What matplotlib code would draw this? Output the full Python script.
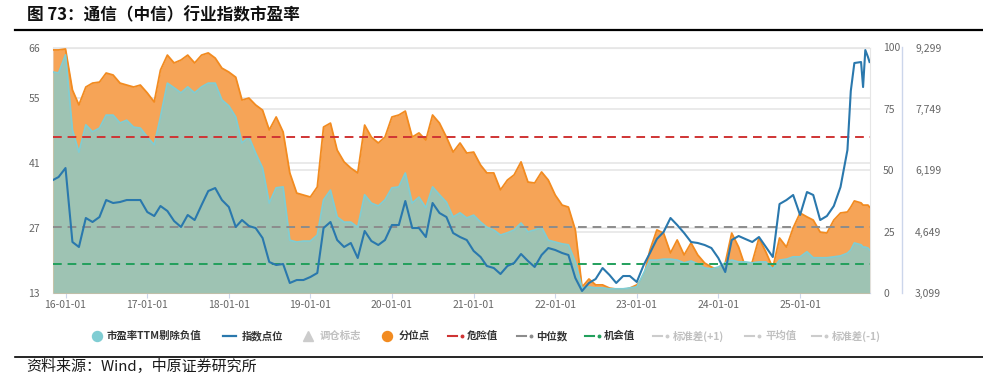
import pandas as pd
import matplotlib
matplotlib.use('Agg')
import matplotlib.pyplot as plt
import matplotlib.dates as mdates
from matplotlib.lines import Line2D
from matplotlib.ticker import FuncFormatter

plt.rcParams['font.family'] = ['Noto Sans CJK SC', 'DejaVu Sans']

# ---- data ----
dates = pd.to_datetime(['2015-11-06']
                       + list(pd.date_range('2015-12-01', '2025-08-01', freq='MS').strftime('%Y-%m-%d'))
                       + ['2025-08-16', '2025-09-01', '2025-10-01', '2025-10-10', '2025-10-20',
                          '2025-11-01', '2025-11-08'])

# PE TTM (excl. negatives), left axis
pe = [60.7, 60.5, 64.4, 48.2, 43.4, 49.3, 47.8, 48.6, 51.4, 51.4, 49.7, 50.3, 48.8, 48.6,
      46.7, 45.0, 51.0, 58.3, 57.3, 56.2, 57.5, 56.2, 57.5, 58.3, 58.3, 54.7,
      53.4, 51.0, 45.4, 46.7, 43.2, 40.0, 32.4, 35.7, 35.9, 24.4, 24.0, 24.2,
      24.2, 25.5, 33.1, 35.2, 29.4, 28.3, 28.3, 27.2, 34.2, 32.4, 31.8, 33.1,
      35.7, 35.9, 38.9, 32.4, 33.7, 31.4, 35.9, 34.2, 32.6, 29.4, 30.3, 29.2,
      29.8, 28.3, 27.2, 26.6, 25.5, 26.0, 26.6, 28.1, 26.2, 26.6, 27.2, 24.4,
      24.0, 23.6, 23.4, 19.7, 14.1, 14.3, 14.1, 14.1, 13.9, 13.9, 13.9, 14.1,
      14.3, 17.3, 20.1, 20.1, 20.3, 20.3, 20.1, 19.5, 19.9, 19.3, 18.4, 18.2,
      18.6, 19.5, 20.1, 19.7, 19.7, 19.5, 19.7, 19.7, 18.2, 20.1, 20.3, 20.8,
      20.8, 21.9, 20.6, 20.6, 20.6, 20.8, 21.0, 21.6,
      22.3, 23.8, 23.4, 22.9, 22.9, 22.7, 22.3]

# percentile (0-100), right axis
pct = [99.0, 99.0, 99.4, 82.7, 76.6, 83.9, 85.5, 85.9, 89.6, 88.8, 85.5, 84.7, 83.9, 84.7,
       81.5, 77.8, 90.8, 96.9, 93.7, 94.9, 96.9, 93.7, 96.9, 97.8, 95.7, 91.6,
       90.0, 87.9, 78.6, 79.4, 76.6, 74.5, 66.4, 71.7, 65.6, 48.9, 40.7, 39.9,
       39.1, 43.2, 67.6, 69.2, 58.2, 53.4, 50.9, 48.9, 68.4, 63.5, 61.1, 63.5,
       71.7, 72.5, 74.1, 63.5, 65.2, 62.3, 72.5, 69.2, 63.5, 57.4, 61.1, 57.0,
       57.4, 52.1, 48.9, 48.9, 42.0, 46.0, 48.1, 53.4, 45.2, 44.8, 49.3, 46.0,
       39.9, 35.8, 35.0, 25.7, 2.4, 5.7, 3.3, 3.3, 2.0, 1.6, 1.2, 2.0,
       3.3, 6.5, 17.5, 25.7, 24.4, 16.3, 21.6, 15.5, 20.4, 15.5, 12.2, 10.6,
       9.4, 12.2, 24.4, 18.7, 10.6, 12.6, 22.4, 16.7, 10.2, 22.4, 18.7, 26.5,
       32.6, 31.0, 29.7, 24.8, 24.4, 29.7, 32.6, 33.0,
       35.0, 37.5, 36.7, 35.8, 35.8, 35.8, 35.0]

# index level, outer right axis
idx = [5952, 6028, 6255, 4387, 4261, 4993, 4892, 5018, 5447, 5372, 5397, 5447, 5447, 5447,
       5144, 5043, 5296, 5170, 4917, 4766, 5069, 4942, 5321, 5675, 5750, 5447,
       5271, 4766, 4942, 4791, 4740, 4488, 3882, 3806, 3831, 3352, 3427, 3427,
       3503, 3604, 4740, 4892, 4437, 4261, 4362, 3983, 4665, 4412, 4311, 4437,
       4816, 4816, 5422, 4740, 4740, 4513, 5372, 5119, 5018, 4614, 4513, 4437,
       4160, 4008, 3781, 3730, 3579, 3781, 3857, 4084, 3907, 3756, 4059, 4235,
       4185, 4109, 4059, 3478, 3150, 3352, 3453, 3730, 3554, 3352, 3528, 3528,
       3377, 3806, 4109, 4463, 4639, 4993, 4816, 4614, 4387, 4362, 4311, 4235,
       3983, 3629, 4437, 4538, 4463, 4387, 4513, 4261, 4008, 5346, 5447, 5574,
       5069, 5649, 5574, 4942, 5043, 5296, 5776, 6710,
       8200, 8907, 8932, 8300, 9235, 9058, 8932]

danger = 46.6
median = 27.3
chance = 19.2

pe_ticks = [13, 27, 41, 55, 66]
pct_ticks = [0, 25, 50, 75, 100]
idx_ticks = [3099, 4649, 6199, 7749, 9299]
year_ticks = pd.to_datetime(['%d-01-01' % y for y in range(2016, 2026)])

# ---- figure ----
W, H = 983, 382
fig = plt.figure(figsize=(W / 100, H / 100), dpi=100)
ax = fig.add_axes([53 / W, 1 - 293 / H, (870 - 53) / W, (293 - 47.5) / H])
ax2 = ax.twinx()
ax3 = ax.twinx()

grey_txt = '#666666'
axis_blue = '#ccd6eb'

# everything drawn on the top axes, with the matching scale
ax3.fill_between(dates, 0, pct, transform=ax2.transData, color='#f6a457', lw=0, zorder=1)
ax3.plot(dates, pct, transform=ax2.transData, color='#f28b20', lw=1.3, zorder=2)
ax3.fill_between(dates, 13, pe, transform=ax.transData, color='#9ec3b3', lw=0, zorder=3)
ax3.plot(dates, pe, transform=ax.transData, color='#80cdd3', lw=1.3, zorder=4)
for val, col in [(danger, '#cf3434'), (median, '#8c8c8c'), (chance, '#22a05c')]:
    ax3.plot([0, 1], [val, val], transform=ax.get_yaxis_transform(), color=col,
             lw=1.4, dashes=(4.5, 3), zorder=5)
ax3.plot(dates, idx, color='#2a78ad', lw=1.5, zorder=6)

ax.set_ylim(13, 66)
ax2.set_ylim(0, 100)
ax3.set_ylim(3099, 9299)
ax.set_xlim(pd.Timestamp('2015-11-06'), pd.Timestamp('2025-11-10'))

ax.set_yticks(pe_ticks)
ax2.set_yticks(pct_ticks)
ax3.set_yticks(idx_ticks)
ax3.yaxis.set_major_formatter(FuncFormatter(lambda v, p: '{:,.0f}'.format(v)))
ax.set_xticks(year_ticks)
ax.xaxis.set_major_formatter(mdates.DateFormatter('%y-%m-%d'))

ax.grid(axis='y', color='#e6e6e6', lw=1.2)
ax2.grid(axis='y', color='#e6e6e6', lw=1.2)

ax.tick_params(axis='y', length=0, pad=9.4, labelsize=7.5, labelcolor=grey_txt)
ax.tick_params(axis='x', length=3.6, width=0.8, color=axis_blue, pad=1.2,
               labelsize=7.5, labelcolor=grey_txt)
ax2.tick_params(axis='y', length=0, pad=9.4, labelsize=7.5, labelcolor=grey_txt)
ax3.tick_params(axis='y', length=0, pad=9.4, labelsize=7.5, labelcolor=grey_txt)

for s in ['left', 'top', 'right']:
    ax.spines[s].set_color('#e6e6e6')
ax.spines['bottom'].set_color(axis_blue)
for s in ax2.spines.values():
    s.set_visible(False)
for s in ['left', 'top', 'bottom']:
    ax3.spines[s].set_visible(False)
ax3.spines['right'].set_position(('outward', 23))
ax3.spines['right'].set_color(axis_blue)
ax3.spines['right'].set_linewidth(1.0)

# ---- legend (hand placed) ----
def fx(x):
    return x / W

ly = 1 - 336 / H
dark = '#333333'
light = '#c0c0c0'
legend_items = [
    ('o', '#80cdd3', 96.7, 106.7, '市盈率TTM剔除负值', dark),
    ('line', '#2a78ad', 222.7, 241.7, '指数点位', dark),
    ('^', '#cccccc', 308, 320, '调仓标志', light),
    ('o', '#f28b20', 386.7, 399, '分位点', dark),
    ('dash', '#cf3434', 448, 466.7, '危险值', dark),
    ('dash', '#8c8c8c', 517, 536, '中位数', dark),
    ('dash', '#22a05c', 585, 604, '机会值', dark),
    ('dash', '#cccccc', 653, 672.7, '标准差(+1)', light),
    ('dash', '#cccccc', 745, 765, '平均值', light),
    ('dash', '#cccccc', 811.7, 831.7, '标准差(-1)', light),
]
for kind, col, hx, tx, label, tcol in legend_items:
    if kind == 'line':
        fig.add_artist(Line2D([fx(hx), fx(hx + 13.5)], [ly, ly], color=col, lw=1.6))
    elif kind == 'dash':
        fig.add_artist(Line2D([fx(hx), fx(hx + 9)], [ly, ly], color=col, lw=1.5))
        fig.add_artist(Line2D([fx(hx + 14)], [ly], color=col, marker='o', ms=1.8, lw=0))
    else:
        fig.add_artist(Line2D([fx(hx)], [ly], color=col, marker=kind, ms=7.2, lw=0))
    fig.text(fx(tx), ly, label, fontsize=7.5, fontweight='bold', color=tcol,
             va='center', ha='left')

# ---- title / source ----
fig.text(27 / W, 1 - 15 / H, '图 73：通信（中信）行业指数市盈率', fontsize=12,
         fontweight='bold', va='center', ha='left', color='#111111')
fig.add_artist(Line2D([15 / W, 1], [1 - 29.5 / H] * 2, color='black', lw=1.6))
fig.add_artist(Line2D([15 / W, 1], [1 - 357 / H] * 2, color='black', lw=1.2))
fig.text(26 / W, 1 - 367 / H, '资料来源：Wind，中原证券研究所', fontsize=10.8,
         va='center', ha='left', color='#1a1a1a')

fig.savefig('out.png', dpi=100)
